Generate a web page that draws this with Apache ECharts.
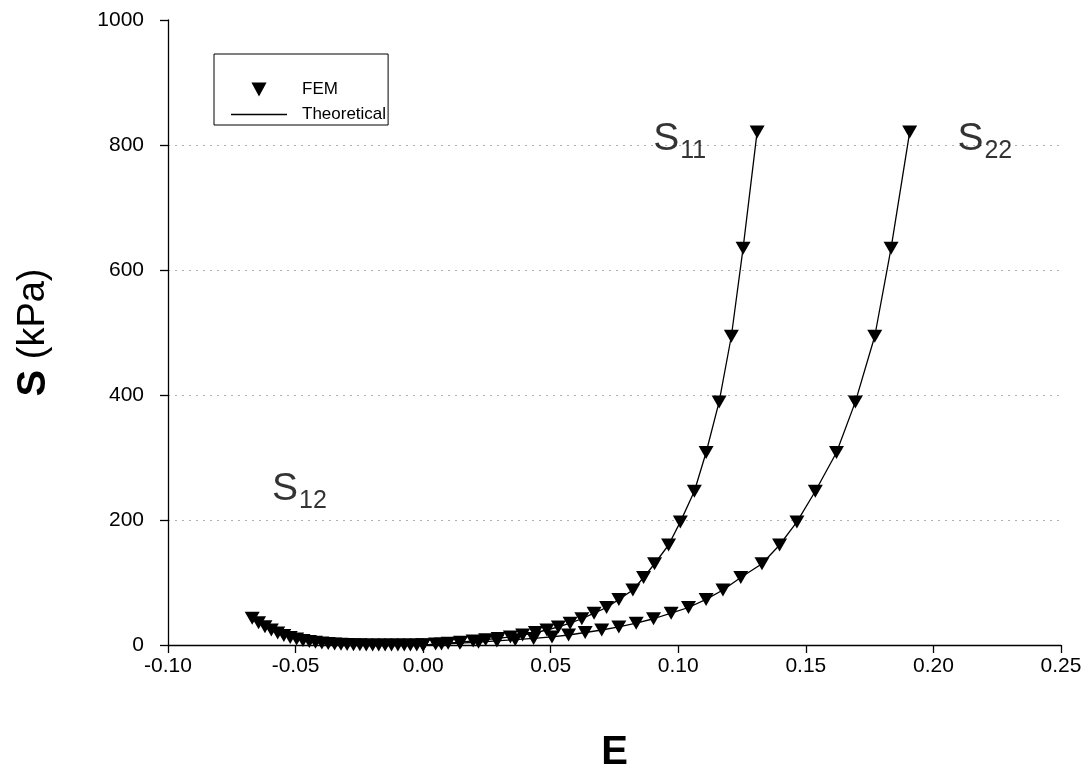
<!DOCTYPE html>
<html><head><meta charset="utf-8">
<script src="https://cdn.jsdelivr.net/npm/echarts@6/dist/echarts.min.js"></script>
<style>html,body{margin:0;padding:0;background:#fff}#c{width:1089px;height:768px}</style>
</head><body><div id="c"></div>
<script>
// Stress levels shared by S11 and S22 (kPa)
const stressNormal = [0, 1.5, 3, 4.5, 6.5, 8.5, 10.5, 13, 16, 20, 24, 29, 35, 42, 51, 60, 73, 88, 108, 130, 160, 197, 246, 308, 389, 494, 635, 821];
// Strain E11 for S11
const strainE11 = [0, 0.0049, 0.0098, 0.0147, 0.0196, 0.0245, 0.0294, 0.0342, 0.039, 0.044, 0.0485, 0.053, 0.0576, 0.0622, 0.067, 0.0719, 0.0767, 0.0822, 0.0864, 0.0907, 0.0962, 0.1008, 0.1063, 0.1109, 0.116, 0.1208, 0.1254, 0.1309];
// Strain E22 for S22
const strainE22 = [0, 0.0072, 0.0144, 0.0217, 0.0289, 0.0361, 0.0433, 0.0505, 0.057, 0.0635, 0.07, 0.0767, 0.0835, 0.0903, 0.0972, 0.104, 0.1109, 0.1175, 0.1245, 0.1328, 0.1397, 0.1465, 0.1537, 0.162, 0.1694, 0.177, 0.1834, 0.1907];
// Shear strain E12 and shear stress S12
const strainE12 = [0, -0.0025, -0.005, -0.0074, -0.0099, -0.0124, -0.0149, -0.0174, -0.0198, -0.0223, -0.0248, -0.0273, -0.0298, -0.0322, -0.0347, -0.0372, -0.0397, -0.0422, -0.0446, -0.0471, -0.0496, -0.0521, -0.0546, -0.057, -0.0595, -0.062, -0.0645, -0.067];
const stressShear = [0, 0, 0, 0, 0, 0, 0, 0.1, 0.1, 0.2, 0.3, 0.5, 0.75, 1.1, 1.6, 2.3, 3.2, 4.3, 5.7, 7.4, 9.6, 12.2, 15.4, 19.3, 23.9, 29.3, 35.6, 43];

const legendNames = ['FEM', 'Theoretical'];
const annotationText = ['11', '22', '12'];
const annotationE = [0.0902, 0.2094, -0.0592];
const annotationS = [840, 840, 280];

const FONT = '"Liberation Sans", Arial, sans-serif';
const pairs = (xs, ys) => xs.map((x, i) => [x, ys[i]]);
const curves = [
  pairs(strainE11, stressNormal),
  pairs(strainE22, stressNormal),
  pairs(strainE12, stressShear)
];

const lineSeries = curves.map(d => ({
  name: 'Theoretical', type: 'line', data: d, symbol: 'none', symbolKeepAspect: true,
  lineStyle: {color: '#000', width: 1.3}, itemStyle: {color: '#000'}, z: 2, silent: true
}));
const femSeries = curves.map(d => ({
  name: 'FEM', type: 'scatter', data: d, symbol: 'triangle', symbolRotate: 180,
  symbolSize: [15, 13], symbolKeepAspect: true,
  itemStyle: {color: '#000', opacity: 1}, z: 3, silent: true
}));
const annSeries = {
  name: 'ann', type: 'scatter', symbolSize: 0, silent: true, z: 4,
  data: annotationText.map((t, i) => ({value: [annotationE[i], annotationS[i]], sub: t})),
  label: {
    show: true, position: [0, 0], align: 'left', verticalAlign: 'top', color: '#000',
    formatter: p => '{s|S}{sub|' + p.data.sub + '}',
    rich: {
      s: {fontSize: 39, fontFamily: FONT, color: '#000', verticalAlign: 'top', lineHeight: 40},
      sub: {fontSize: 25, fontFamily: FONT, color: '#000', verticalAlign: 'top', padding: [19, 0, 0, 1], lineHeight: 40}
    }
  }
};

const chart = echarts.init(document.getElementById('c'), null, {renderer: 'canvas'});
chart.setOption({
  animation: false,
  backgroundColor: '#fff',
  textStyle: {fontFamily: FONT},
  grid: {left: 168, right: 28, top: 20, bottom: 123, containLabel: false, outerBoundsMode: 'none'},
  legend: {
    orient: 'vertical', left: 214, top: 54, selectedMode: false,
    data: [
      {name: legendNames[0], icon: 'path://M0,0L13,0L6.5,12Z'},
      {name: legendNames[1], icon: 'path://M0,0H56V1.3H0Z'}
    ],
    itemWidth: 56, itemHeight: 14, itemGap: 8,
    textStyle: {fontSize: 17, color: '#000', fontFamily: FONT, padding: [0, 0, 0, 10]},
    borderColor: '#000', borderWidth: 1, borderRadius: 0,
    padding: [27, 2, 2, 17]
  },
  xAxis: {
    type: 'value', min: -0.1, max: 0.25, interval: 0.05,
    name: 'E', nameLocation: 'middle', nameGap: 88,
    nameTextStyle: {fontSize: 40, fontWeight: 'bold', color: '#000', fontFamily: FONT},
    axisLine: {show: true, onZero: false, lineStyle: {color: '#000', width: 1.3}},
    axisTick: {show: true, length: 8, lineStyle: {color: '#000', width: 1.3}},
    axisLabel: {fontSize: 21, color: '#000', margin: 11, fontFamily: FONT, formatter: v => v.toFixed(2)},
    splitLine: {show: false}
  },
  yAxis: {
    type: 'value', min: 0, max: 1000, interval: 200,
    name: '{b|S} (kPa)', nameLocation: 'middle', nameRotate: 90, nameGap: 114,
    nameTextStyle: {fontSize: 38, color: '#000', fontFamily: FONT, rich: {b: {fontSize: 40, fontWeight: 'bold', color: '#000', fontFamily: FONT}}},
    axisLine: {show: true, onZero: false, lineStyle: {color: '#000', width: 1.3}},
    axisTick: {show: true, length: 8, lineStyle: {color: '#000', width: 1.3}},
    axisLabel: {fontSize: 21, color: '#000', margin: 24, fontFamily: FONT, formatter: v => String(v)},
    splitLine: {show: true, showMinLine: false, showMaxLine: false, lineStyle: {color: '#b0b0b0', type: [2, 5], width: 1.2}}
  },
  series: [...lineSeries, ...femSeries, annSeries]
});
</script></body></html>
